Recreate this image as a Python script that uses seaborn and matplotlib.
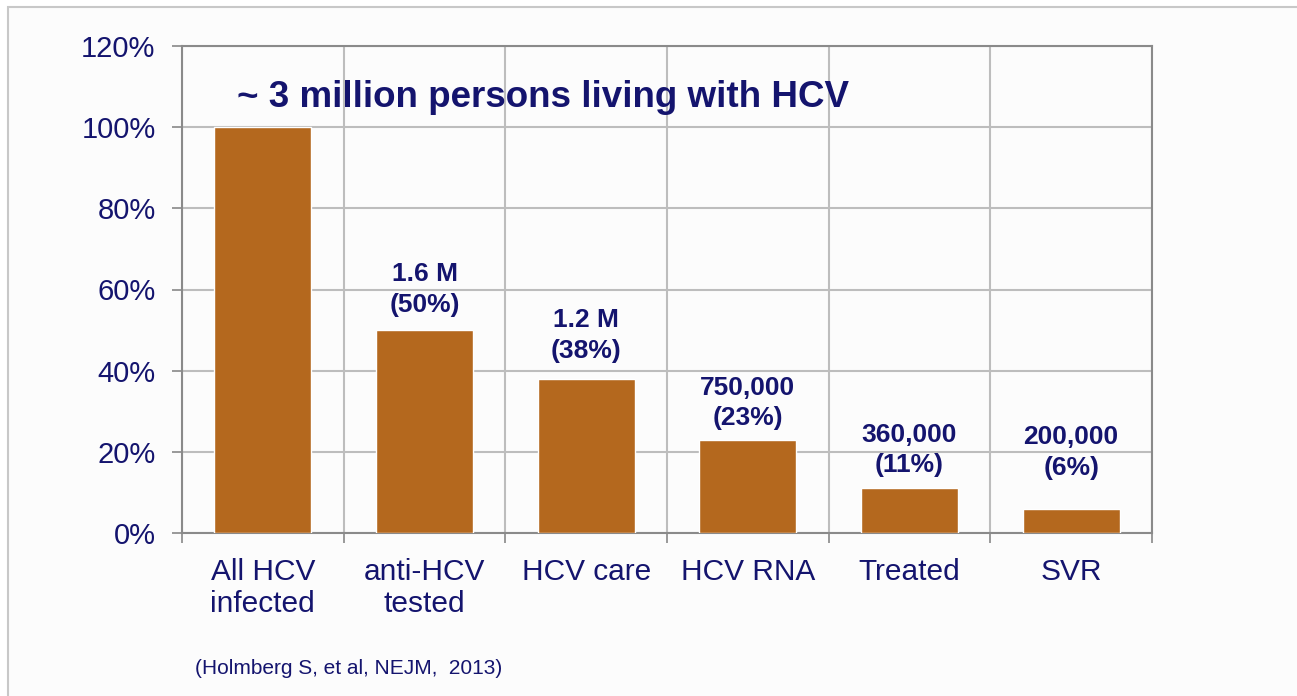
import numpy as np
import pandas as pd
import seaborn as sns
import matplotlib.pyplot as plt
from matplotlib.patches import Rectangle

## Data
categories = ["All HCV\ninfected", "anti-HCV\ntested", "HCV care", "HCV RNA", "Treated", "SVR"]
percent = [100, 50, 38, 23, 11, 6]
counts = ["", "1.6 M", "1.2 M", "750,000", "360,000", "200,000"]
yticks = [0, 20, 40, 60, 80, 100, 120]

# label lift above each bar (points) - placed by hand in the original slide
label_lift = [0, 29, 31, 26.5, 27.5, 40.5]

navy = "#14146e"
bar_color = "#b4681e"

sns.set_theme(style="white")
plt.rcParams["font.family"] = ["Liberation Sans", "DejaVu Sans"]

df = pd.DataFrame({"stage": categories, "pct": percent})

fig = plt.figure(figsize=(12.97, 6.96), dpi=100, facecolor="white")
# slide frame
fig.patches.append(Rectangle((8 / 1297, -0.01), 1.0, 1 - 7 / 696 + 0.01,
                             transform=fig.transFigure, facecolor="#fcfcfc",
                             edgecolor="#c8c8c8", linewidth=1.5, zorder=-1))
ax = fig.add_axes([182 / 1297, 1 - 533 / 696, 970 / 1297, 487 / 696])
ax.set_facecolor("#fcfcfc")

sns.barplot(data=df, x="stage", y="pct", color=bar_color, saturation=1,
            width=0.6, ax=ax, zorder=3)

ax.set_xlim(-0.5, 5.5)
ax.set_ylim(0, 120)
ax.set_yticks(yticks)
ax.set_yticklabels([f"{v}%" for v in yticks])

# labels at centers (minor), ticks/grid at category boundaries (major)
ax.set_xticks(np.arange(-0.5, 6, 1))
ax.set_xticklabels([])
ax.set_xticks(np.arange(6), minor=True)
ax.set_xticklabels(categories, minor=True, linespacing=1.2)
ax.tick_params(axis="x", which="major", length=7, width=1.2, color="#888888", direction="out")
ax.tick_params(axis="x", which="minor", length=0, pad=18, labelsize=21.5, labelcolor=navy)
ax.tick_params(axis="y", length=7, width=1.2, color="#888888", direction="out",
               pad=12, labelsize=21, labelcolor=navy)
ax.tick_params(bottom=True, left=True)

ax.grid(axis="y", color="#bdbdbd", linewidth=1.5, zorder=0)
ax.grid(axis="x", which="major", color="#bdbdbd", linewidth=1.5, zorder=0)
ax.set_axisbelow(True)
for s in ax.spines.values():
    s.set_color("#8a8a8a")
    s.set_linewidth(1.5)
    s.set_visible(True)

ax.set_xlabel("")
ax.set_ylabel("")

# bar labels
for i, (p, c) in enumerate(zip(percent, counts)):
    if c:
        ax.annotate(f"{c}\n({p}%)", xy=(i, p), xytext=(0, label_lift[i]), textcoords="offset points",
                    ha="center", va="center", fontsize=19, fontweight="bold",
                    color=navy, linespacing=1.35)

ax.text(0.0567, 107.2, "~ 3 million persons living with HCV", transform=ax.get_yaxis_transform(),
        ha="left", va="center", fontsize=26.5, fontweight="bold", color=navy)

fig.text(195 / 1297, 1 - 668 / 696, "(Holmberg S, et al, NEJM,  2013)", ha="left", va="center",
         fontsize=15, color=navy)

fig.savefig("out.png", dpi=100)
